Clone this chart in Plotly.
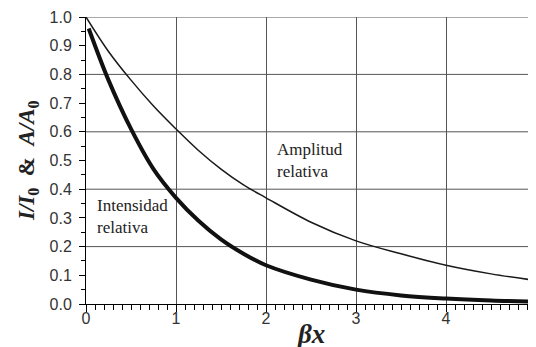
import plotly.graph_objects as go

# Values
bx_amp = [0, 0.25, 0.5, 0.75, 1.0, 1.25, 1.5, 1.75, 2.0, 2.5, 3.0, 3.5, 4.0, 4.5, 5.0]
amp_rel = [1.0, 0.88, 0.78, 0.69, 0.61, 0.535, 0.47, 0.415, 0.37, 0.285, 0.22, 0.175, 0.135, 0.105, 0.082]

bx_int = [0.03, 0.25, 0.5, 0.75, 1.0, 1.25, 1.5, 1.75, 2.0, 2.5, 3.0, 3.5, 4.0, 4.5, 5.0]
int_rel = [0.96, 0.78, 0.61, 0.47, 0.37, 0.29, 0.225, 0.175, 0.135, 0.085, 0.05, 0.03, 0.019, 0.012, 0.008]

grid_y = [0.2, 0.4, 0.6, 0.8, 1.0]

fig = go.Figure()
fig.add_trace(go.Scatter(x=bx_amp, y=amp_rel, mode="lines",
                         line=dict(color="#1a1a1a", width=1.5, shape="spline"),
                         showlegend=False))
fig.add_trace(go.Scatter(x=bx_int, y=int_rel, mode="lines",
                         line=dict(color="#111111", width=4, shape="spline"),
                         showlegend=False))

for gy in grid_y:
    fig.add_shape(type="line", xref="x", yref="y", x0=0, x1=5, y0=gy, y1=gy,
                  line=dict(color="#555555", width=1), layer="below")

fig.add_annotation(x=2.1, y=0.58, xref="x", yref="y", text="Amplitud<br>relativa",
                   showarrow=False, xanchor="left", yanchor="top", align="left",
                   font=dict(family="Liberation Serif", size=17, color="#222"))
fig.add_annotation(x=0.1, y=0.385, xref="x", yref="y", text="Intensidad<br>relativa",
                   showarrow=False, xanchor="left", yanchor="top", align="left",
                   font=dict(family="Liberation Serif", size=17, color="#222"))

# axis titles
fig.add_annotation(x=0.5, y=-0.045, xref="paper", yref="paper", yanchor="top",
                   text="<b><i>βx</i></b>", showarrow=False,
                   font=dict(family="Liberation Serif", size=27, color="#222"))
fig.add_annotation(x=-0.13, y=0.5, xref="paper", yref="paper", textangle=-90,
                   xanchor="center", yanchor="middle",
                   text="<b><i>I/I</i><sub>0</sub>  &amp;  <i>A/A</i><sub>0</sub></b>",
                   showarrow=False,
                   font=dict(family="Liberation Serif", size=23, color="#222"))

fig.update_layout(
    width=536, height=347,
    margin=dict(l=78, r=8, t=9, b=51),
    paper_bgcolor="white", plot_bgcolor="white",
    xaxis=dict(range=[0, 5], dtick=1, tick0=0, showgrid=True, gridcolor="#555555",
               gridwidth=1, zeroline=False, showline=True, linecolor="black", linewidth=1,
               ticks="outside", ticklen=7, tickcolor="black", automargin=False,
               minor=dict(dtick=0.1, ticks="outside", ticklen=5, tickcolor="black", showgrid=False),
               tickfont=dict(family="Liberation Sans", size=16, color="#333"),
               ticklabelstandoff=-7),
    yaxis=dict(range=[0, 1], dtick=0.1, tick0=0, tickformat=".1f", showgrid=False,
               zeroline=False, showline=True, linecolor="black", linewidth=1,
               ticks="outside", ticklen=6, tickcolor="black", automargin=False,
               minor=dict(dtick=0.05, ticks="outside", ticklen=4, tickcolor="black", showgrid=False),
               tickfont=dict(family="Liberation Sans", size=16, color="#333"),
               ticklabelstandoff=4),
)

fig.write_html("out.html")
